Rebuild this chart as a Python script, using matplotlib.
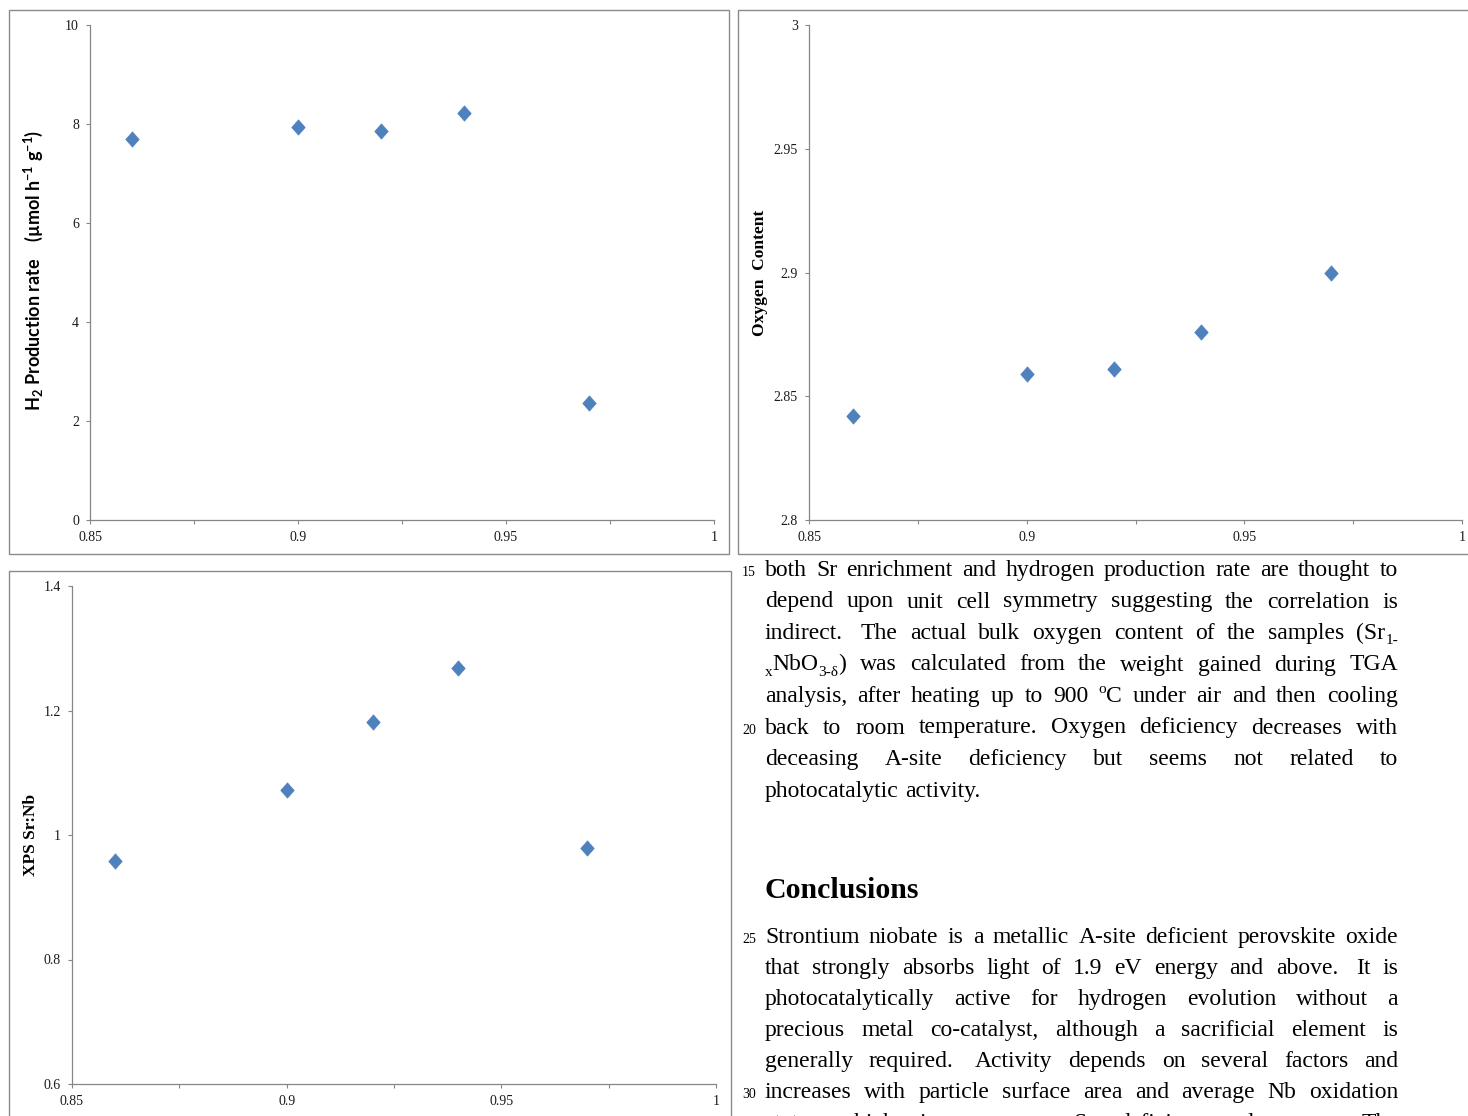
import re
import matplotlib
matplotlib.use("Agg")
import matplotlib.pyplot as plt
from matplotlib.path import Path
from matplotlib.patches import Rectangle

W, H, DPI = 1468, 1116, 100
SERIF = "Liberation Serif"

# Sr content (1 - x) of the Sr1-xNbO3 samples
sr_content = [0.86, 0.90, 0.92, 0.94, 0.97]
# Measured properties of each sample
h2_rate = [7.70, 7.94, 7.86, 8.22, 2.36]
oxygen_content = [2.842, 2.859, 2.861, 2.876, 2.900]
xps_sr_nb = [0.958, 1.072, 1.182, 1.268, 0.979]

x_ticks = [0.85, 0.875, 0.9, 0.925, 0.95, 0.975, 1.0]
x_tick_labels = ["0.85", "", "0.9", "", "0.95", "", "1"]
h2_ticks = [0, 2, 4, 6, 8, 10]
h2_tick_labels = ["0", "2", "4", "6", "8", "10"]
oxy_ticks = [2.8, 2.85, 2.9, 2.95, 3.0]
oxy_tick_labels = ["2.8", "2.85", "2.9", "2.95", "3"]
xps_ticks = [0.6, 0.8, 1.0, 1.2, 1.4]
xps_tick_labels = ["0.6", "0.8", "1", "1.2", "1.4"]

para1 = [
    "both Sr enrichment and hydrogen production rate are thought to",
    "depend upon unit cell symmetry suggesting the correlation is",
    "indirect.  The actual bulk oxygen content of the samples (Sr_{1-}",
    "_{x}NbO_{3-δ}) was calculated from the weight gained during TGA",
    "analysis, after heating up to 900 ^{o}C under air and then cooling",
    "back to room temperature. Oxygen deficiency decreases with",
    "deceasing A-site deficiency but seems not related to",
    "photocatalytic activity.",
]
para2 = [
    "Strontium niobate is a metallic A-site deficient perovskite oxide",
    "that strongly absorbs light of 1.9 eV energy and above.  It is",
    "photocatalytically active for hydrogen evolution without a",
    "precious metal co-catalyst, although a sacrificial element is",
    "generally required.  Activity depends on several factors and",
    "increases with particle surface area and average Nb oxidation",
    "state, which increases as Sr deficiency decreases. The",
]
heading = "Conclusions"

BLUE = "#4F81BD"
AXIS_GREY = "#868686"
FRAME_GREY = "#8a8a8a"

plt.rcParams["font.family"] = [SERIF, "DejaVu Sans"]
plt.rcParams["mathtext.default"] = "regular"

fig = plt.figure(figsize=(W / DPI, H / DPI), dpi=DPI)
fig.patch.set_facecolor("white")
renderer = fig.canvas.get_renderer()


def fx(x):
    return x / W


def fy(y):
    return 1 - y / H


def frame(left, top, right, bottom):
    fig.add_artist(Rectangle((fx(left), fy(bottom)), (right - left) / W,
                             (bottom - top) / H, transform=fig.transFigure,
                             fill=False, ec=FRAME_GREY, lw=1.0))


diamond = Path([(0, 1), (0.88, 0), (0, -1), (-0.88, 0), (0, 1)],
               [Path.MOVETO, Path.LINETO, Path.LINETO, Path.LINETO, Path.CLOSEPOLY])


def panel(box, yvals, yticks, ylabels, ylim, ylabel, label_xy, label_kw):
    left, top, right, bottom = box
    ax = fig.add_axes([fx(left), fy(bottom), (right - left) / W, (bottom - top) / H])
    ax.plot(sr_content, yvals, ls="none", marker=diamond, ms=11,
            mfc=BLUE, mec=BLUE, mew=0.5, zorder=3, clip_on=False)
    ax.set_xlim(0.85, 1.0)
    ax.set_ylim(*ylim)
    ax.set_xticks(x_ticks)
    ax.set_xticklabels(x_tick_labels)
    ax.set_yticks(yticks)
    ax.set_yticklabels(ylabels)
    for side in ("top", "right"):
        ax.spines[side].set_visible(False)
    for side in ("left", "bottom"):
        ax.spines[side].set_color(AXIS_GREY)
        ax.spines[side].set_linewidth(0.9)
    ax.tick_params(axis="both", direction="out", length=3, width=0.8,
                   color=AXIS_GREY, labelsize=10, labelcolor="#1a1a1a", pad=5)
    for t in ax.get_xticklabels() + ax.get_yticklabels():
        t.set_family(SERIF)
    ax.set_ylabel(ylabel, va="center", **label_kw)
    ax.yaxis.set_label_coords(*label_xy)
    ax.patch.set_alpha(0)
    return ax


# Panel frames
frame(9, 10, 729, 554)
frame(738, 10, 1470, 554)
frame(9, 571, 731, 1120)

panel((90, 25, 714, 520), h2_rate, h2_ticks, h2_tick_labels, (0, 10),
      "H$_2$ Production rate    (µmol h$^{-1}$ g$^{-1}$)", (-0.0913, 0.505),
      dict(family=["Lato", "DejaVu Sans"], fontweight="bold", fontsize=13))
panel((809, 25, 1462, 520), oxygen_content, oxy_ticks, oxy_tick_labels, (2.8, 3.0),
      "Oxygen  Content", (-0.075, 0.50),
      dict(family=SERIF, fontweight="bold", fontsize=12.5))
panel((72, 586, 716, 1084), xps_sr_nb, xps_ticks, xps_tick_labels, (0.6, 1.4),
      "XPS Sr:Nb", (-0.0637, 0.50),
      dict(family=SERIF, fontweight="bold", fontsize=12.5))

# ---- justified body text ----
BODY_SIZE = 17
SCRIPT_SIZE = 11
X_LEFT, X_RIGHT = 765, 1398
SHIFT = {"base": 0, "sub": -5, "sup": 9}


def text_width(s, size):
    t = fig.text(0, 0, s, fontsize=size, family=SERIF)
    w = t.get_window_extent(renderer).width
    t.remove()
    return w


space_w = text_width("n n", BODY_SIZE) - text_width("nn", BODY_SIZE)


def segments(word):
    out = []
    for part in re.split(r"(_\{[^}]*\}|\^\{[^}]*\})", word):
        if not part:
            continue
        if part.startswith("_{"):
            out.append((part[2:-1], "sub"))
        elif part.startswith("^{"):
            out.append((part[2:-1], "sup"))
        else:
            out.append((part, "base"))
    return out


def build_word(word):
    items, width = [], 0.0
    for s, kind in segments(word):
        size = BODY_SIZE if kind == "base" else SCRIPT_SIZE
        t = fig.text(0, 0, s, fontsize=size, family=SERIF, color="black",
                     ha="left", va="baseline")
        items.append((t, kind, width))
        width += t.get_window_extent(renderer).width
    return items, width


def draw_line(line, baseline, justify):
    tokens = re.split(r"( +)", line)
    words = tokens[0::2]
    gaps = [len(g) for g in tokens[1::2]]
    built = [build_word(w) for w in words]
    natural = sum(b[1] for b in built) + sum(gaps) * space_w
    extra = (X_RIGHT - X_LEFT - natural) / len(gaps) if (justify and gaps) else 0.0
    x = X_LEFT
    for i, (items, width) in enumerate(built):
        for t, kind, off in items:
            t.set_position((fx(x + off), fy(baseline - SHIFT[kind])))
        x += width
        if i < len(gaps):
            x += gaps[i] * space_w + extra


def line_number(n, baseline):
    fig.text(fx(742), fy(baseline), str(n), fontsize=10, family=SERIF,
             ha="left", va="baseline", color="black")


for i, line in enumerate(para1):
    b = 576 + i * 31.5
    draw_line(line, b, justify=(i < len(para1) - 1))
line_number(15, 576)
line_number(20, 576 + 5 * 31.5)

fig.text(fx(765), fy(898), heading, fontsize=21.5, family=SERIF,
         fontweight="bold", ha="left", va="baseline", color="black")

for i, line in enumerate(para2):
    b = 943 + i * 31.0
    draw_line(line, b, justify=True)
line_number(25, 943)
line_number(30, 943 + 5 * 31.0)

fig.savefig("out.png", dpi=DPI, facecolor="white")
